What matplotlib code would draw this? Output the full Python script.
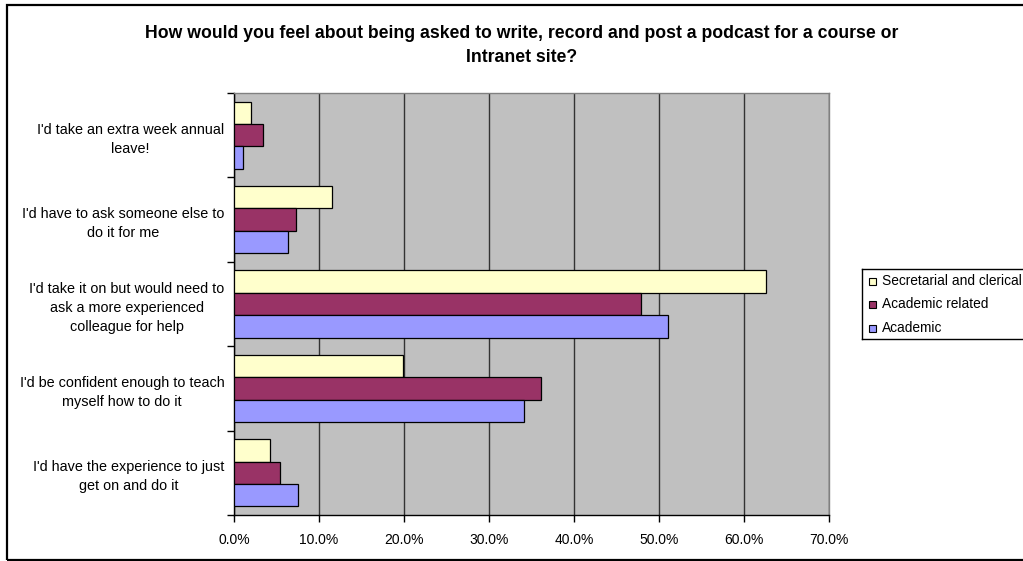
import matplotlib
matplotlib.use("Agg")
import matplotlib.pyplot as plt
from matplotlib.patches import Rectangle
import numpy as np

categories = [
    "I'd take an extra week annual\nleave!",
    "I'd have to ask someone else to\ndo it for me",
    "I'd take it on but would need to\nask a more experienced\ncolleague for help",
    "I'd be confident enough to teach\nmyself how to do it",
    "I'd have the experience to just\nget on and do it",
]
series_names = ["Secretarial and clerical", "Academic related", "Academic"]
secretarial = [2.0, 11.5, 62.6, 19.9, 4.2]
academic_related = [3.4, 7.3, 47.9, 36.1, 5.4]
academic = [1.0, 6.4, 51.0, 34.1, 7.5]
colors = ["#FFFFCC", "#993366", "#9999FF"]
xticks = [0, 10, 20, 30, 40, 50, 60, 70]

plt.rcParams['font.family'] = ['Liberation Sans', 'DejaVu Sans']

W, H = 1023, 561
fig = plt.figure(figsize=(W / 100, H / 100), dpi=100)
fig.patch.set_facecolor("white")

# outer chart border
fig.add_artist(Rectangle((7 / W, 1 / H), (W + 10) / W, (H - 6) / H,
                         transform=fig.transFigure, fill=False,
                         edgecolor="black", linewidth=1.6, clip_on=False))

left, right, top, bottom = 234, 829, 93, 515
ax = fig.add_axes([left / W, 1 - bottom / H, (right - left) / W, (bottom - top) / H])
ax.set_facecolor("#C0C0C0")

n = len(categories)
y = np.arange(n)
h = 0.265
for k, (vals, c) in enumerate(zip([secretarial, academic_related, academic], colors)):
    ax.barh(y + (k - 1) * h, vals, height=h, color=c, edgecolor="black",
            linewidth=0.9, zorder=3, label=series_names[k])

ax.set_xlim(0, 70)
ax.set_ylim(n - 0.5, -0.5)
ax.set_xticks(xticks)
ax.set_xticklabels([f"{v:.1f}%" for v in xticks], fontsize=10)
ax.xaxis.grid(True, color="#333333", linewidth=1.0, zorder=1)
ax.set_axisbelow(True)

ax.set_yticks(np.arange(n + 1) - 0.5)
ax.set_yticklabels([])
ax.set_yticks(y, minor=True)
ax.set_yticklabels(categories, minor=True, fontsize=10.35, ha="right",
                   multialignment="center", linespacing=1.45)
ax.tick_params(axis="y", which="minor", length=0, pad=7)
ax.tick_params(axis="y", which="major", length=5, direction="out", width=1)
ax.tick_params(axis="x", length=5, direction="out", width=1, pad=8)

for s in ["top", "right"]:
    ax.spines[s].set_color("#808080")
    ax.spines[s].set_linewidth(1.0)
for s in ["left", "bottom"]:
    ax.spines[s].set_color("black")
    ax.spines[s].set_linewidth(1.0)

fig.text(522 / W, 1 - 33 / H,
         "How would you feel about being asked to write, record and post a podcast for a course or",
         ha="center", va="center", fontsize=12.7, fontweight="bold")
fig.text(522 / W, 1 - 57 / H, "Intranet site?",
         ha="center", va="center", fontsize=12.7, fontweight="bold")

# legend
leg_ax = fig.add_axes([862 / W, 1 - 339 / H, 200 / W, 70 / H])
leg_ax.set_xlim(0, 200)
leg_ax.set_ylim(70, 0)
leg_ax.set_xticks([])
leg_ax.set_yticks([])
for s in leg_ax.spines.values():
    s.set_color("black")
    s.set_linewidth(1.0)
for k, name in enumerate(series_names):
    yy = 12 + k * 23.5
    leg_ax.add_patch(Rectangle((7, yy - 3.5), 7, 7, facecolor=colors[k],
                               edgecolor="black", linewidth=0.8))
    leg_ax.text(20, yy, name, va="center", ha="left", fontsize=9.9)

fig.savefig("out.png", dpi=100)
